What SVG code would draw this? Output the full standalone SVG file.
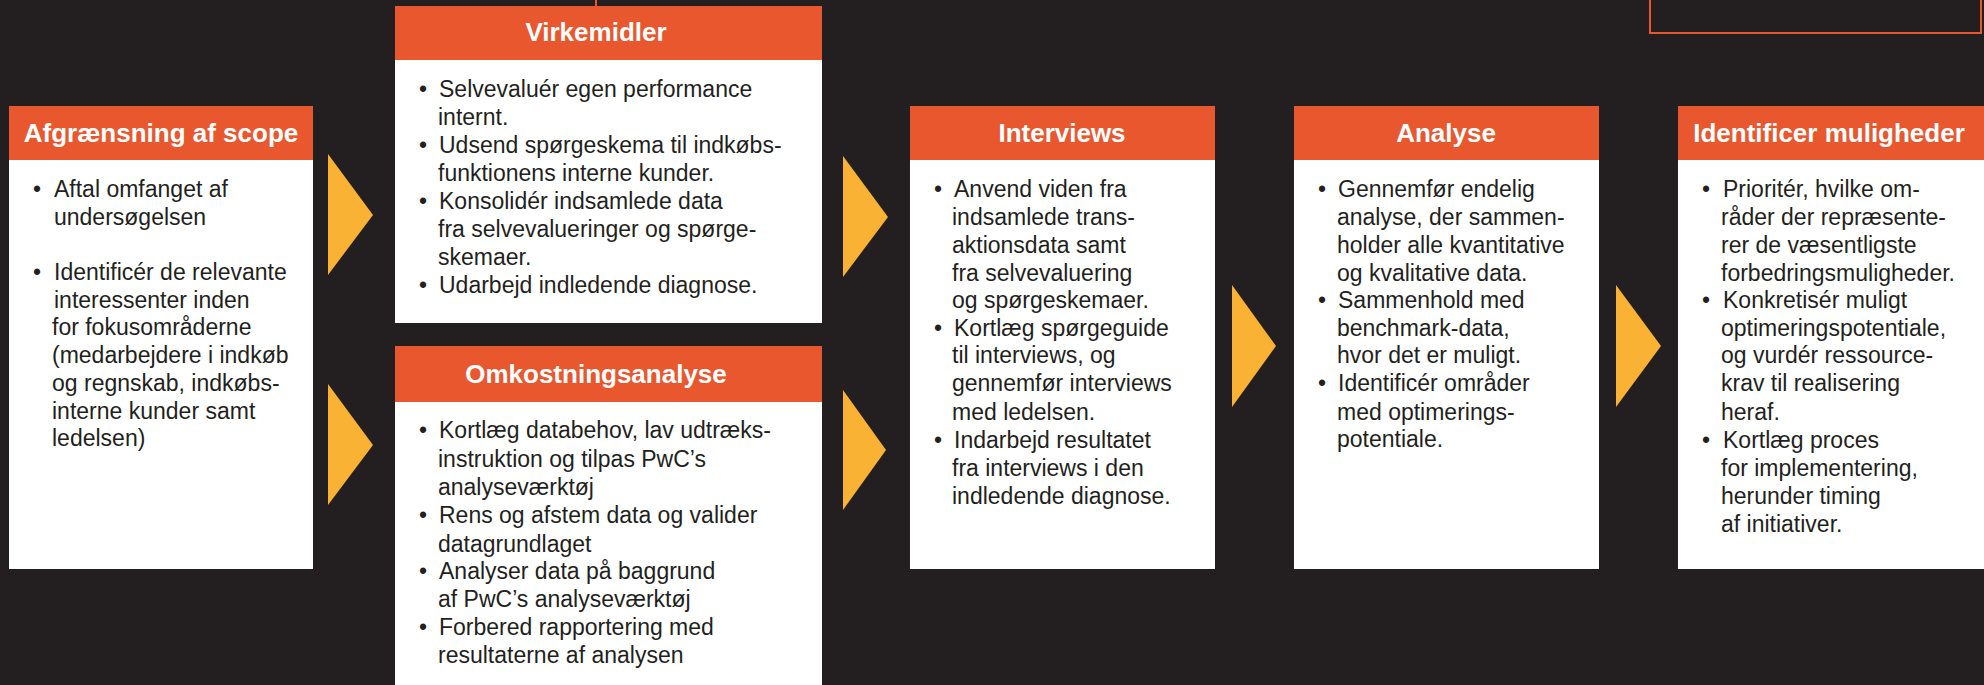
<svg xmlns="http://www.w3.org/2000/svg" width="1984" height="685" viewBox="0 0 1984 685">
<style>
.hd{fill:#e9572f}
.bx{fill:#ffffff}
.ht{font-family:"Liberation Sans",Arial,sans-serif;font-weight:bold;font-size:26px;fill:#ffffff;text-anchor:middle}
.bt{font-family:"Liberation Sans",Arial,sans-serif;font-size:23px;fill:#231f20}
.ar{fill:#f9b233}
</style>
<rect x="0" y="0" width="1984" height="685" fill="#231f20"/>
<line x1="596" y1="0" x2="596" y2="7" stroke="#e9572f" stroke-width="2"/>
<rect x="1650" y="-10" width="331" height="43" fill="none" stroke="#e9572f" stroke-width="2"/>

<g id="connectors">
<polygon class="ar" points="328,154 373,215 328,275"/>
<polygon class="ar" points="328,384 373,445 328,505"/>
<polygon class="ar" points="843,156 888,217 843,277"/>
<polygon class="ar" points="843,390 886,450 843,510"/>
<polygon class="ar" points="1232,285 1276,346 1232,407"/>
<polygon class="ar" points="1616,285 1661,346 1616,407"/>
</g>

<g id="afgraensning">
<rect class="bx" x="9" y="106" width="304" height="463"/>
<rect class="hd" x="9" y="106" width="304" height="54"/>
<text class="ht" x="161" y="142">Afgrænsning af scope</text>
<text class="bt" x="33" y="197">•</text>
<text class="bt" x="54" y="197">Aftal omfanget af</text>
<text class="bt" x="54" y="225">undersøgelsen</text>
<text class="bt" x="33" y="280">•</text>
<text class="bt" x="54" y="280">Identificér de relevante</text>
<text class="bt" x="54" y="308">interessenter inden</text>
<text class="bt" x="52" y="335">for fokusområderne</text>
<text class="bt" x="52" y="363">(medarbejdere i indkøb</text>
<text class="bt" x="52" y="391">og regnskab, indkøbs-</text>
<text class="bt" x="52" y="419">interne kunder samt</text>
<text class="bt" x="52" y="446">ledelsen)</text>
</g>

<g id="virkemidler">
<rect class="bx" x="395" y="6" width="427" height="317"/>
<rect class="hd" x="395" y="6" width="427" height="54"/>
<text class="ht" x="596" y="41">Virkemidler</text>
<text class="bt" x="419" y="97">•</text>
<text class="bt" x="439" y="97">Selvevaluér egen performance</text>
<text class="bt" x="438" y="125">internt.</text>
<text class="bt" x="419" y="153">•</text>
<text class="bt" x="439" y="153">Udsend spørgeskema til indkøbs-</text>
<text class="bt" x="438" y="181">funktionens interne kunder.</text>
<text class="bt" x="419" y="209">•</text>
<text class="bt" x="439" y="209">Konsolidér indsamlede data</text>
<text class="bt" x="438" y="237">fra selvevalueringer og spørge-</text>
<text class="bt" x="438" y="265">skemaer.</text>
<text class="bt" x="419" y="293">•</text>
<text class="bt" x="439" y="293">Udarbejd indledende diagnose.</text>
</g>

<g id="omkostningsanalyse">
<rect class="bx" x="395" y="346" width="427" height="345"/>
<rect class="hd" x="395" y="346" width="427" height="56"/>
<text class="ht" x="596" y="383">Omkostningsanalyse</text>
<text class="bt" x="419" y="438">•</text>
<text class="bt" x="439" y="438">Kortlæg databehov, lav udtræks-</text>
<text class="bt" x="438" y="467">instruktion og tilpas PwC’s</text>
<text class="bt" x="438" y="495">analyseværktøj</text>
<text class="bt" x="419" y="523">•</text>
<text class="bt" x="439" y="523">Rens og afstem data og valider</text>
<text class="bt" x="438" y="552">datagrundlaget</text>
<text class="bt" x="419" y="579">•</text>
<text class="bt" x="439" y="579">Analyser data på baggrund</text>
<text class="bt" x="438" y="607">af PwC’s analyseværktøj</text>
<text class="bt" x="419" y="635">•</text>
<text class="bt" x="439" y="635">Forbered rapportering med</text>
<text class="bt" x="438" y="663">resultaterne af analysen</text>
</g>

<g id="interviews">
<rect class="bx" x="910" y="106" width="305" height="463"/>
<rect class="hd" x="910" y="106" width="305" height="54"/>
<text class="ht" x="1062" y="142">Interviews</text>
<text class="bt" x="934" y="197">•</text>
<text class="bt" x="954" y="197">Anvend viden fra</text>
<text class="bt" x="952" y="225">indsamlede trans-</text>
<text class="bt" x="952" y="253">aktionsdata samt</text>
<text class="bt" x="952" y="281">fra selvevaluering</text>
<text class="bt" x="952" y="308">og spørgeskemaer.</text>
<text class="bt" x="934" y="336">•</text>
<text class="bt" x="954" y="336">Kortlæg spørgeguide</text>
<text class="bt" x="952" y="363">til interviews, og</text>
<text class="bt" x="952" y="391">gennemfør interviews</text>
<text class="bt" x="952" y="420">med ledelsen.</text>
<text class="bt" x="934" y="448">•</text>
<text class="bt" x="954" y="448">Indarbejd resultatet</text>
<text class="bt" x="952" y="476">fra interviews i den</text>
<text class="bt" x="952" y="504">indledende diagnose.</text>
</g>

<g id="analyse">
<rect class="bx" x="1294" y="106" width="305" height="463"/>
<rect class="hd" x="1294" y="106" width="305" height="54"/>
<text class="ht" x="1446" y="142">Analyse</text>
<text class="bt" x="1318" y="197">•</text>
<text class="bt" x="1338" y="197">Gennemfør endelig</text>
<text class="bt" x="1337" y="225">analyse, der sammen-</text>
<text class="bt" x="1337" y="253">holder alle kvantitative</text>
<text class="bt" x="1337" y="281">og kvalitative data.</text>
<text class="bt" x="1318" y="308">•</text>
<text class="bt" x="1338" y="308">Sammenhold med</text>
<text class="bt" x="1337" y="336">benchmark-data,</text>
<text class="bt" x="1337" y="363">hvor det er muligt.</text>
<text class="bt" x="1318" y="391">•</text>
<text class="bt" x="1338" y="391">Identificér områder</text>
<text class="bt" x="1337" y="420">med optimerings-</text>
<text class="bt" x="1337" y="447">potentiale.</text>
</g>

<g id="identificer">
<rect class="bx" x="1678" y="106" width="306" height="463"/>
<rect class="hd" x="1678" y="106" width="306" height="54"/>
<text class="ht" x="1829" y="142">Identificer muligheder</text>
<text class="bt" x="1702" y="197">•</text>
<text class="bt" x="1723" y="197">Prioritér, hvilke om-</text>
<text class="bt" x="1721" y="225">råder der repræsente-</text>
<text class="bt" x="1721" y="253">rer de væsentligste</text>
<text class="bt" x="1721" y="281">forbedringsmuligheder.</text>
<text class="bt" x="1702" y="308">•</text>
<text class="bt" x="1723" y="308">Konkretisér muligt</text>
<text class="bt" x="1721" y="336">optimeringspotentiale,</text>
<text class="bt" x="1721" y="363">og vurdér ressource-</text>
<text class="bt" x="1721" y="391">krav til realisering</text>
<text class="bt" x="1721" y="420">heraf.</text>
<text class="bt" x="1702" y="448">•</text>
<text class="bt" x="1723" y="448">Kortlæg proces</text>
<text class="bt" x="1721" y="476">for implementering,</text>
<text class="bt" x="1721" y="504">herunder timing</text>
<text class="bt" x="1721" y="532">af initiativer.</text>
</g>
</svg>
